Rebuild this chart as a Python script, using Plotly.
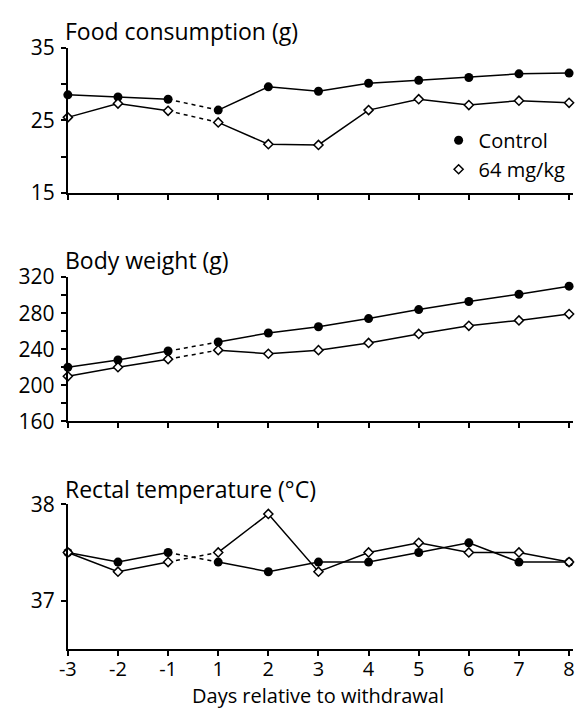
import plotly.graph_objects as go

# Days relative to withdrawal (no day 0), plotted at evenly spaced positions
days = ["-3", "-2", "-1", "1", "2", "3", "4", "5", "6", "7", "8"]
pos = list(range(len(days)))

food_control = [28.5, 28.2, 27.9, 26.4, 29.6, 29.0, 30.1, 30.5, 30.9, 31.4, 31.5]
food_64 = [25.4, 27.3, 26.3, 24.7, 21.7, 21.6, 26.4, 27.9, 27.1, 27.7, 27.4]

weight_control = [220, 228, 238, 248, 258, 265, 274, 284, 293, 301, 310]
weight_64 = [210, 220, 229, 239, 235, 239, 247, 257, 266, 272, 279]

temp_control = [37.5, 37.4, 37.5, 37.4, 37.3, 37.4, 37.4, 37.5, 37.6, 37.4, 37.4]
temp_64 = [37.5, 37.3, 37.4, 37.5, 37.9, 37.3, 37.5, 37.6, 37.5, 37.5, 37.4]

panel_titles = ["Food consumption (g)", "Body weight (g)", "Rectal temperature (°C)"]
series_names = ["Control", "64 mg/kg"]

FONT = "Open Sans"
W, H = 575, 723

# vertical pixel extents (top, bottom) of each panel
panel_px = [(34, 185), (272.7, 422.7), (509, 659.3)]
y_ranges = [[15, 35], [160, 320], [36.5, 38]]
y_major = [[15, 25, 35], [160, 200, 240, 280, 320], [37, 38]]
y_minor = [5, 20, None]

marker_styles = [
    dict(symbol="circle", size=9, color="black", line=dict(color="black", width=0)),
    dict(symbol="diamond", size=7, color="white", line=dict(color="black", width=1.5)),
]

fig = go.Figure()
data = [(food_control, food_64), (weight_control, weight_64), (temp_control, temp_64)]
brk = days.index("-1")  # gap across the withdrawal day

for i, pair in enumerate(data):
    yax = "y" if i == 0 else f"y{i + 1}"
    xax = "x" if i == 0 else f"x{i + 1}"
    for s, vals in enumerate(pair):
        # dashed bridge over the withdrawal day
        fig.add_trace(go.Scatter(
            x=pos[brk:brk + 2], y=vals[brk:brk + 2], mode="lines",
            line=dict(color="black", width=1.5, dash="4px,4px"),
            xaxis=xax, yaxis=yax, showlegend=False, hoverinfo="skip"))
        # solid segments before and after withdrawal
        for seg in (slice(0, brk + 1), slice(brk + 1, None)):
            fig.add_trace(go.Scatter(
                x=pos[seg], y=vals[seg], mode="lines+markers",
                line=dict(color="black", width=1.5),
                marker=marker_styles[s], cliponaxis=False,
                xaxis=xax, yaxis=yax, showlegend=False, hoverinfo="skip"))

# legend entries (markers only)
for s, name in enumerate(series_names):
    fig.add_trace(go.Scatter(
        x=[None], y=[None], mode="markers", marker=marker_styles[s],
        name=name, showlegend=True, xaxis="x", yaxis="y"))

layout = dict(
    width=W, height=H,
    margin=dict(l=0, r=0, t=0, b=0),
    paper_bgcolor="white", plot_bgcolor="white",
    font=dict(family=FONT, size=20, color="black"),
    showlegend=True,
    legend=dict(x=438 / W, y=1 - 110 / H, xanchor="left", yanchor="top",
                bgcolor="rgba(0,0,0,0)", font=dict(size=20), itemwidth=30,
                tracegroupgap=0),
)

x_left, x_right = 60, 575
x_range = [0.0, (x_right - x_left) / 51.1]

for i in range(3):
    top, bot = panel_px[i]
    dom_y = [1 - bot / H, 1 - top / H]
    sx = "" if i == 0 else str(i + 1)
    layout[f"xaxis{sx}"] = dict(
        domain=[x_left / W, 1.0], range=x_range, anchor=f"y{sx}",
        tickmode="array", tickvals=pos, ticktext=days,
        showticklabels=(i == 2), ticks="outside", ticklen=5, tickwidth=1.5,
        tickcolor="black", showline=True, linecolor="black", linewidth=2,
        showgrid=False, zeroline=False, tickfont=dict(size=20),
        ticklabeloverflow="allow", ticklabelstandoff=-4,
    )
    ydict = dict(
        domain=dom_y, range=y_ranges[i], anchor=f"x{sx}",
        tickmode="array", tickvals=y_major[i],
        ticks="outside", ticklen=5, tickwidth=1.5, tickcolor="black",
        showline=True, linecolor="black", linewidth=2,
        showgrid=False, zeroline=False, tickfont=dict(size=21),
        ticklabelstandoff=2,
    )
    if y_minor[i] is not None:
        ydict["minor"] = dict(dtick=y_minor[i], ticks="outside", ticklen=5,
                              tickwidth=1.5, tickcolor="black", showgrid=False)
    layout[f"yaxis{sx}"] = ydict

fig.update_layout(**layout)

title_centers = [17, 255, 493]
for t, cy in zip(panel_titles, title_centers):
    fig.add_annotation(text=t, xref="paper", yref="paper",
                       x=55 / W, y=1 - cy / H, xanchor="left", yanchor="middle",
                       showarrow=False, font=dict(size=23, family=FONT))

fig.add_annotation(text="Days relative to withdrawal", xref="paper", yref="paper",
                   x=(60 + 571) / 2 / W, y=0, xanchor="center",
                   yanchor="bottom", showarrow=False, borderpad=0,
                   font=dict(size=20, family=FONT))

fig.write_html("out.html")
